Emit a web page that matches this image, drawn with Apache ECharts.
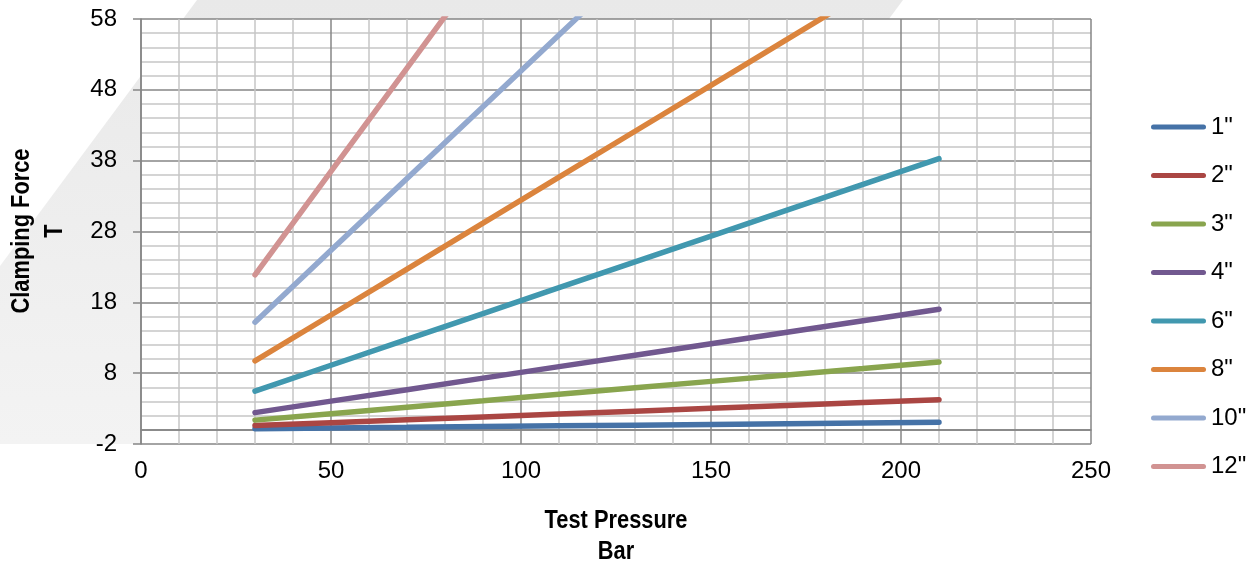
<!DOCTYPE html>
<html>
<head>
<meta charset="utf-8">
<script src="https://cdn.jsdelivr.net/npm/echarts@6/dist/echarts.min.js"></script>
<style>
html,body{margin:0;padding:0;background:#fff;}
#c{width:1258px;height:564px;}
</style>
</head>
<body>
<div id="c"></div>
<script>
// Test pressure (bar)
const pressures = [30, 50, 70, 90, 110, 130, 150, 170, 190, 210];
// Clamping force (T) per cylinder size
const sizeNames = ['1"', '2"', '3"', '4"', '6"', '8"', '10"', '12"'];
const force1 = [0.15, 0.25, 0.35, 0.46, 0.56, 0.66, 0.76, 0.86, 0.96, 1.06];
const force2 = [0.61, 1.01, 1.42, 1.82, 2.23, 2.63, 3.04, 3.45, 3.85, 4.26];
const force3 = [1.37, 2.28, 3.19, 4.10, 5.02, 5.93, 6.84, 7.75, 8.66, 9.58];
const force4 = [2.43, 4.05, 5.67, 7.30, 8.92, 10.54, 12.16, 13.78, 15.40, 17.02];
const force6 = [5.47, 9.12, 12.77, 16.42, 20.07, 23.71, 27.36, 31.01, 34.66, 38.30];
const force8 = [9.73, 16.21, 22.70, 29.18, 35.67, 42.15, 48.64, 55.12, 61.61, 68.10];
const force10 = [15.20, 25.34, 35.47, 45.60, 55.74, 65.87, 76.01, 86.14, 96.28, 106.41];
const force12 = [21.89, 36.48, 51.08, 65.67, 80.26, 94.86, 109.45, 124.04, 138.64, 153.23];
const xTickLabels = ['0', '50', '100', '150', '200', '250'];
const yTickLabels = ['-2', '8', '18', '28', '38', '48', '58'];
const xTitle = ['Test Pressure', 'Bar'];
const yTitle = ['Clamping Force', 'T'];

const allForces = [force1, force2, force3, force4, force6, force8, force10, force12];
const colors = ['#4572A7', '#AA4643', '#89A54E', '#71588F', '#4198AF', '#DB843D', '#93A9CF', '#D19392'];

const DARK = '#868686', LIGHT = '#c6c6c6';
const LEGEND_ICON = 'path://M2.5,0 L52.5,0 A2.5,2.5 0 0 1 52.5,5 L2.5,5 A2.5,2.5 0 0 1 2.5,0 Z';

const series = sizeNames.map((name, i) => {
  const s = {
    name: name,
    type: 'line',
    symbol: 'none',
    clip: true,
    yAxisIndex: 0,
    lineStyle: { width: 5.5, color: colors[i], cap: 'round' },
    itemStyle: { color: colors[i] },
    data: pressures.map((p, j) => [p, allForces[i][j]]),
    z: 3
  };
  if (i === 0) {
    s.markLine = {
      silent: true, symbol: 'none', label: { show: false },
      lineStyle: { color: DARK, width: 1.5, type: 'solid' },
      data: [{ yAxis: 0 }], z: 1
    };
  }
  return s;
});

const titleFont = 'bold 26px "Liberation Sans", Arial, sans-serif';
const chart = echarts.init(document.getElementById('c'));
chart.setOption({
  animation: false,
  backgroundColor: '#fff',
  graphic: [
    {
      type: 'polygon', z: -100, silent: true,
      shape: { points: [[197, 0], [903, 0], [574, 444], [0, 444], [0, 266]] },
      style: {
        fill: new echarts.graphic.LinearGradient(0, 0, 0, 1, [
          { offset: 0, color: '#e9e9e9' }, { offset: 1, color: '#f3f3f3' }
        ])
      }
    },
    { type: 'text', x: 616, y: 521, scaleX: 0.84, silent: true,
      style: { text: xTitle[0], font: titleFont, fill: '#000', align: 'center', verticalAlign: 'middle' } },
    { type: 'text', x: 616, y: 552, scaleX: 0.84, silent: true,
      style: { text: xTitle[1], font: titleFont, fill: '#000', align: 'center', verticalAlign: 'middle' } },
    { type: 'text', x: 22, y: 231, scaleX: 0.84, rotation: Math.PI / 2, silent: true,
      style: { text: yTitle[0], font: titleFont, fill: '#000', align: 'center', verticalAlign: 'middle' } },
    { type: 'text', x: 55, y: 231, scaleX: 0.84, rotation: Math.PI / 2, silent: true,
      style: { text: yTitle[1], font: titleFont, fill: '#000', align: 'center', verticalAlign: 'middle' } }
  ],
  grid: {
    left: 141, right: 167, top: 19, bottom: 120, show: true, backgroundColor: '#fff', borderWidth: 0, z: 0,
    containLabel: false, outerBoundsMode: 'none'
  },
  legend: {
    orient: 'vertical', left: 1146, top: 110, itemWidth: 55, itemHeight: 5, itemGap: 24.5,
    itemStyle: { borderWidth: 0 },
    textStyle: { fontFamily: 'Liberation Sans', fontSize: 24, color: '#000' },
    icon: LEGEND_ICON,
    data: sizeNames
  },
  xAxis: {
    type: 'value', min: 0, max: 250, interval: 10,
    axisLine: { show: true, lineStyle: { color: DARK, width: 1.5 } },
    axisTick: { show: false },
    axisLabel: {
      margin: 15, fontFamily: 'Liberation Sans', fontSize: 24, color: '#000',
      formatter: v => (xTickLabels.indexOf(String(v)) >= 0 ? String(v) : '')
    },
    splitLine: { show: true, lineStyle: { color: [DARK, LIGHT, LIGHT, LIGHT, LIGHT], width: 1.5 } }
  },
  yAxis: [
    {
      type: 'value', min: -2, max: 58, interval: 2, position: 'left',
      axisLine: { show: true, lineStyle: { color: DARK, width: 1.5 } },
      axisTick: { show: false },
      axisLabel: {
        margin: 24, fontFamily: 'Liberation Sans', fontSize: 24, color: '#000',
        formatter: v => (yTickLabels.indexOf(String(Math.round(v))) >= 0 ? String(Math.round(v)) : '')
      },
      splitLine: { show: true, lineStyle: { color: [DARK, LIGHT, LIGHT, LIGHT, LIGHT], width: 1.5 } }
    },
    {
      type: 'value', min: -2, max: 58, interval: 2, position: 'left', offset: 0,
      axisLine: { show: false },
      axisTick: { show: true, customValues: yTickLabels.map(Number), length: 8, lineStyle: { color: DARK, width: 1.5 } },
      axisLabel: { show: false },
      splitLine: { show: false }
    }
  ],
  series: series
});
</script>
</body>
</html>
